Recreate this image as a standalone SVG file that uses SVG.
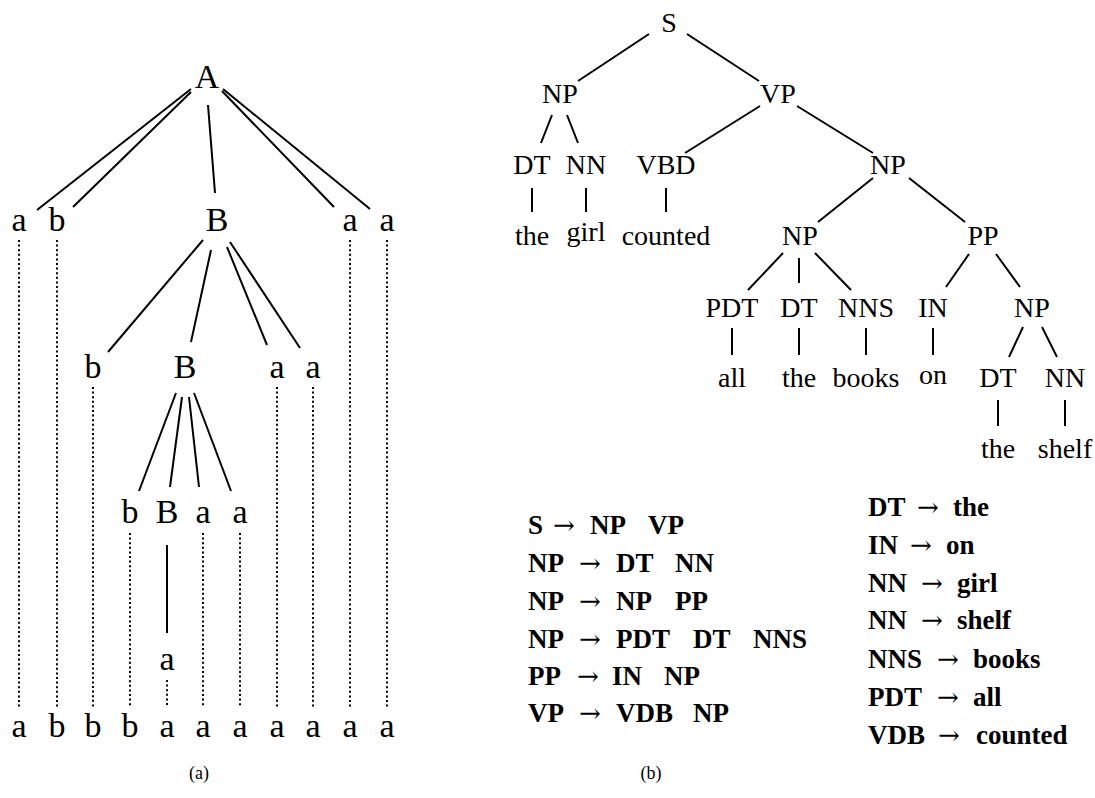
<svg xmlns="http://www.w3.org/2000/svg" width="1095" height="798" viewBox="0 0 1095 798">
<style>
.t{font-family:"Liberation Serif","Times New Roman",serif;fill:#000;text-anchor:middle}
.ta{font-size:34px}
.tb{font-size:28px}
.e{stroke:#000;stroke-width:2;fill:none}
.d{stroke:#000;stroke-width:2;fill:none;stroke-dasharray:2 2.6}
.r{font-family:"Liberation Serif","Times New Roman",serif;font-weight:bold;font-size:27px;fill:#000}
.ar{font-family:"DejaVu Serif",serif;font-weight:normal;font-size:26px}
.cap{font-family:"Liberation Serif","Times New Roman",serif;font-size:18px;fill:#000;text-anchor:middle}
</style>
<rect width="1095" height="798" fill="#fff"/>
<g id="connectors">
 <line class="e" x1="191" y1="89" x2="37" y2="210"/>
 <line class="e" x1="191" y1="92" x2="73" y2="207"/>
 <line class="e" x1="208" y1="105" x2="215" y2="193"/>
 <line class="e" x1="222" y1="91" x2="334" y2="207"/>
 <line class="e" x1="223" y1="89" x2="370" y2="209"/>
 <line class="e" x1="203" y1="240" x2="108" y2="352"/>
 <line class="e" x1="211" y1="250" x2="191" y2="342"/>
 <line class="e" x1="227" y1="247" x2="267" y2="345"/>
 <line class="e" x1="230" y1="242" x2="300" y2="348"/>
 <line class="e" x1="176" y1="393" x2="139" y2="491"/>
 <line class="e" x1="182" y1="397" x2="170" y2="487"/>
 <line class="e" x1="189" y1="397" x2="199" y2="487"/>
 <line class="e" x1="194" y1="393" x2="231" y2="491"/>
 <line class="e" x1="167" y1="545" x2="167" y2="633"/>
 <line class="d" x1="19" y1="240" x2="19" y2="707"/>
 <line class="d" x1="57" y1="240" x2="57" y2="707"/>
 <line class="d" x1="350" y1="240" x2="350" y2="707"/>
 <line class="d" x1="387" y1="240" x2="387" y2="707"/>
 <line class="d" x1="93" y1="387" x2="93" y2="707"/>
 <line class="d" x1="277" y1="387" x2="277" y2="707"/>
 <line class="d" x1="313" y1="387" x2="313" y2="707"/>
 <line class="d" x1="130" y1="533" x2="130" y2="707"/>
 <line class="d" x1="203" y1="533" x2="203" y2="707"/>
 <line class="d" x1="240" y1="533" x2="240" y2="707"/>
 <line class="d" x1="167" y1="680" x2="167" y2="707"/>
 <line class="e" x1="649" y1="34" x2="578" y2="81"/>
 <line class="e" x1="687" y1="34" x2="759" y2="81"/>
 <line class="e" x1="552" y1="115" x2="541" y2="143"/>
 <line class="e" x1="567" y1="115" x2="578" y2="143"/>
 <line class="e" x1="760" y1="106" x2="685" y2="153"/>
 <line class="e" x1="797" y1="106" x2="873" y2="153"/>
 <line class="e" x1="532" y1="188" x2="532" y2="212"/>
 <line class="e" x1="586" y1="188" x2="586" y2="212"/>
 <line class="e" x1="666" y1="188" x2="666" y2="212"/>
 <line class="e" x1="873" y1="178" x2="818" y2="222"/>
 <line class="e" x1="909" y1="178" x2="965" y2="222"/>
 <line class="e" x1="783" y1="253" x2="748" y2="290"/>
 <line class="e" x1="799" y1="258" x2="799" y2="283"/>
 <line class="e" x1="815" y1="253" x2="851" y2="290"/>
 <line class="e" x1="969" y1="254" x2="946" y2="287"/>
 <line class="e" x1="996" y1="254" x2="1020" y2="287"/>
 <line class="e" x1="732" y1="328" x2="732" y2="355"/>
 <line class="e" x1="799" y1="328" x2="799" y2="355"/>
 <line class="e" x1="866" y1="328" x2="866" y2="355"/>
 <line class="e" x1="933" y1="328" x2="933" y2="355"/>
 <line class="e" x1="1023" y1="327" x2="1009" y2="357"/>
 <line class="e" x1="1042" y1="327" x2="1057" y2="357"/>
 <line class="e" x1="998" y1="400" x2="998" y2="426"/>
 <line class="e" x1="1065" y1="400" x2="1065" y2="426"/>
</g>
<g id="a-A"><text class="t ta" x="207" y="88">A</text></g>
<g id="a-l1-a"><text class="t ta" x="19" y="231">a</text></g>
<g id="a-l1-b"><text class="t ta" x="57" y="231">b</text></g>
<g id="a-l1-B"><text class="t ta" x="217" y="231">B</text></g>
<g id="a-l1-a2"><text class="t ta" x="350" y="231">a</text></g>
<g id="a-l1-a3"><text class="t ta" x="387" y="231">a</text></g>
<g id="a-l2-b"><text class="t ta" x="93" y="378">b</text></g>
<g id="a-l2-B"><text class="t ta" x="185" y="378">B</text></g>
<g id="a-l2-a"><text class="t ta" x="277" y="378">a</text></g>
<g id="a-l2-a2"><text class="t ta" x="313" y="378">a</text></g>
<g id="a-l3-b"><text class="t ta" x="130" y="523">b</text></g>
<g id="a-l3-B"><text class="t ta" x="167" y="523">B</text></g>
<g id="a-l3-a"><text class="t ta" x="203" y="523">a</text></g>
<g id="a-l3-a2"><text class="t ta" x="240" y="523">a</text></g>
<g id="a-l4-a"><text class="t ta" x="167" y="670">a</text></g>
<g id="a-yield">
 <text class="t ta" x="19" y="737">a</text>
 <text class="t ta" x="57" y="737">b</text>
 <text class="t ta" x="93" y="737">b</text>
 <text class="t ta" x="130" y="737">b</text>
 <text class="t ta" x="167" y="737">a</text>
 <text class="t ta" x="203" y="737">a</text>
 <text class="t ta" x="240" y="737">a</text>
 <text class="t ta" x="277" y="737">a</text>
 <text class="t ta" x="313" y="737">a</text>
 <text class="t ta" x="350" y="737">a</text>
 <text class="t ta" x="387" y="737">a</text>
</g>
<g id="cap-a"><text class="cap" x="199" y="779">(a)</text></g>
<g id="b-S"><text class="t tb" x="669" y="32">S</text></g>
<g id="b-NP1"><text class="t tb" x="560" y="103">NP</text></g>
<g id="b-VP"><text class="t tb" x="778" y="103">VP</text></g>
<g id="b-DT1"><text class="t tb" x="532" y="174">DT</text></g>
<g id="b-NN1"><text class="t tb" x="586" y="174">NN</text></g>
<g id="b-VBD"><text class="t tb" x="666" y="174">VBD</text></g>
<g id="b-NP2"><text class="t tb" x="888" y="174">NP</text></g>
<g id="b-the1"><text class="t tb" x="532" y="245">the</text></g>
<g id="b-girl"><text class="t tb" x="586" y="241">girl</text></g>
<g id="b-counted"><text class="t tb" x="666" y="245">counted</text></g>
<g id="b-NP3"><text class="t tb" x="800" y="245">NP</text></g>
<g id="b-PP"><text class="t tb" x="983" y="245">PP</text></g>
<g id="b-PDT"><text class="t tb" x="732" y="317">PDT</text></g>
<g id="b-DT2"><text class="t tb" x="799" y="317">DT</text></g>
<g id="b-NNS"><text class="t tb" x="866" y="317">NNS</text></g>
<g id="b-IN"><text class="t tb" x="933" y="317">IN</text></g>
<g id="b-NP4"><text class="t tb" x="1032" y="317">NP</text></g>
<g id="b-all"><text class="t tb" x="732" y="387">all</text></g>
<g id="b-the2"><text class="t tb" x="799" y="387">the</text></g>
<g id="b-books"><text class="t tb" x="866" y="387">books</text></g>
<g id="b-on"><text class="t tb" x="933" y="384">on</text></g>
<g id="b-DT3"><text class="t tb" x="998" y="387">DT</text></g>
<g id="b-NN2"><text class="t tb" x="1065" y="387">NN</text></g>
<g id="b-the3"><text class="t tb" x="998" y="458">the</text></g>
<g id="b-shelf"><text class="t tb" x="1065" y="458">shelf</text></g>
<g id="rules-left">
 <text class="r" y="534"><tspan x="528">S</tspan><tspan class="ar" x="553">→</tspan><tspan x="590">NP</tspan><tspan x="648">VP</tspan></text>
 <text class="r" y="572"><tspan x="528">NP</tspan><tspan class="ar" x="579">→</tspan><tspan x="616">DT</tspan><tspan x="675">NN</tspan></text>
 <text class="r" y="610"><tspan x="528">NP</tspan><tspan class="ar" x="579">→</tspan><tspan x="616">NP</tspan><tspan x="675">PP</tspan></text>
 <text class="r" y="648"><tspan x="528">NP</tspan><tspan class="ar" x="579">→</tspan><tspan x="616">PDT</tspan><tspan x="693">DT</tspan><tspan x="753">NNS</tspan></text>
 <text class="r" y="685"><tspan x="528">PP</tspan><tspan class="ar" x="577">→</tspan><tspan x="612">IN</tspan><tspan x="664">NP</tspan></text>
 <text class="r" y="722"><tspan x="528">VP</tspan><tspan class="ar" x="579">→</tspan><tspan x="616">VDB</tspan><tspan x="693">NP</tspan></text>
</g>
<g id="rules-right">
 <text class="r" y="516"><tspan x="868">DT</tspan><tspan class="ar" x="917">→</tspan><tspan x="953">the</tspan></text>
 <text class="r" y="554"><tspan x="868">IN</tspan><tspan class="ar" x="910">→</tspan><tspan x="946">on</tspan></text>
 <text class="r" y="592"><tspan x="868">NN</tspan><tspan class="ar" x="921">→</tspan><tspan x="957">girl</tspan></text>
 <text class="r" y="629"><tspan x="868">NN</tspan><tspan class="ar" x="921">→</tspan><tspan x="957">shelf</tspan></text>
 <text class="r" y="668"><tspan x="868">NNS</tspan><tspan class="ar" x="937">→</tspan><tspan x="973">books</tspan></text>
 <text class="r" y="706"><tspan x="868">PDT</tspan><tspan class="ar" x="937">→</tspan><tspan x="973">all</tspan></text>
 <text class="r" y="744"><tspan x="868">VDB</tspan><tspan class="ar" x="938">→</tspan><tspan x="976">counted</tspan></text>
</g>
<g id="cap-b"><text class="cap" x="651" y="779">(b)</text></g>
</svg>
